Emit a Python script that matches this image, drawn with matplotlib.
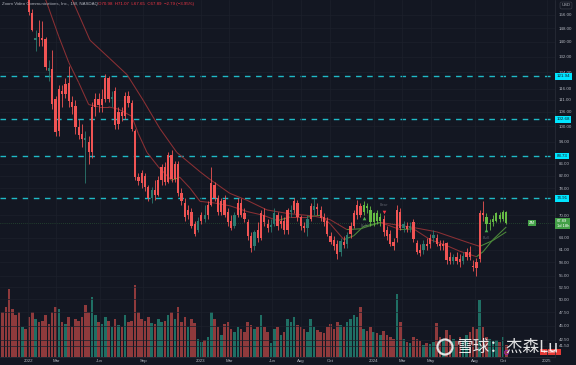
import numpy as np
import pandas as pd
import matplotlib
matplotlib.use('Agg')
import matplotlib.pyplot as plt
import matplotlib.dates as mdates
from matplotlib.collections import LineCollection
from matplotlib.patches import Circle
from matplotlib.ticker import NullLocator
from matplotlib.transforms import IdentityTransform

# weekly ZM candles, first week 2021-11-08
first_week = '2021-11-08'
open_ = [270, 262, 250, 210, 198, 190, 182, 186,
         184, 157, 141.3, 145.3, 142.4, 141.5, 126, 125.5, 111.4, 98,
         115, 113.6, 119, 110, 108.5, 99.5, 97, 95.5, 94, 90,
         108, 111.5, 109, 111.5, 121, 111.5, 115, 101, 106, 104,
         113, 109.5, 98, 81.5, 82.8, 82, 78.3, 75, 77.5, 76,
         80.5, 85, 80, 89, 81, 86, 76.5, 73.5, 70, 71,
         67.5, 66, 68.5, 70, 70, 73, 79, 75, 71, 74.5,
         71, 68.5, 67, 70, 73.5, 70.5, 68, 64.5, 62, 66,
         64, 70, 67.5, 66.7, 67.5, 70, 67.5, 68.5, 66, 71,
         71.5, 73.5, 69.5, 67, 66.5, 69, 71.5, 72.3, 71.5, 69.5,
         68.5, 64.5, 63.5, 62.5, 60.5, 63, 62.5, 65, 67, 70,
         72.5, 71, 72.5, 71.5, 68, 70.5, 68.5, 69, 66, 65,
         63, 64, 71, 66.5, 67, 66.5, 68, 62.7, 61, 61,
         62.5, 62.5, 64, 64, 62.5, 62, 62.7, 59.2, 58.3, 59.3,
         58.8, 58.2, 59.3, 60.5, 57, 58, 58.7, 70.5, 69.5, 67.5,
         68, 68.5, 70, 69, 70.98]
high = [275, 270, 255, 215, 205, 200, 190, 190,
        186, 160, 147, 153, 152, 143, 130.5, 135.8, 113, 118,
        118, 121, 127, 113, 111, 103, 101, 98, 96, 110,
        114, 114, 116, 123, 122, 115, 117, 108, 108, 114.5,
        115, 111, 99, 83, 84, 83, 79, 78.5, 80.5, 82,
        86, 86.5, 90, 91, 87, 87, 78, 75, 73, 72,
        68.5, 69.5, 71, 73, 74, 85, 80, 76, 75, 76,
        72, 70, 71, 75, 75, 72, 69, 65.5, 66, 68,
        71.5, 72, 69, 69, 72, 71, 70, 69.5, 72, 73,
        75, 74.5, 70, 68, 70, 73.5, 75, 73.5, 72.5, 70.5,
        69.5, 65.5, 64.5, 63.5, 64, 64.5, 65.5, 68, 71.5, 74.5,
        73.5, 74, 73.5, 72.5, 71, 71.5, 70.5, 70, 67, 66,
        64, 73, 72, 68.5, 68, 68, 69, 63.5, 62.5, 63.5,
        64, 65, 66, 65, 63.5, 63.5, 63, 60.5, 60, 60.5,
        60, 60.5, 61.5, 62, 58.5, 59, 71.5, 74, 70.5, 69,
        70, 71, 71, 71.5, 71.07]
low = [255, 250, 205, 195, 185, 178, 175, 180,
       156, 146, 135, 138, 138, 125, 120, 107, 96, 96,
       108, 112, 108, 105, 97, 95, 92, 79.5, 86, 88,
       104, 106, 106, 110, 110, 108, 99, 99, 102, 103,
       108, 98, 80.5, 79, 78, 77, 74, 73.5, 74.5, 75.5,
       79, 79, 79.5, 80, 80, 75.5, 73, 68.5, 69, 66.5,
       64.5, 65.5, 67.5, 68, 69, 72.5, 74, 70, 70, 69.5,
       67, 66, 66.5, 69.5, 69.5, 68, 63.5, 60.5, 61, 63,
       63.5, 67, 65.5, 65.5, 67, 66, 66.5, 65, 65, 69.5,
       70.5, 68.5, 66, 65.5, 64.5, 68.5, 70, 70, 68.5, 67,
       64.5, 62.5, 61, 58.8, 59.5, 61.5, 61.5, 64, 66.5, 69,
       69.5, 70, 70.5, 67, 67, 67.5, 67, 64.5, 63.5, 62,
       61, 63, 66, 65.5, 65.5, 65.5, 63, 60, 59.5, 60,
       61, 61.5, 63, 62, 61, 61, 57.5, 57.5, 57.5, 57.5,
       57, 57.5, 58.5, 58.5, 56, 55, 58, 68.5, 66, 66,
       67, 68, 68, 68.5, 67.65]
close = [262, 250, 210, 198, 190, 182, 186, 184,
         158, 147, 142.5, 143, 141.3, 126.6, 124.5, 109.2, 97.8, 116,
         113.6, 118.2, 110.5, 108, 99.5, 96.5, 95, 94.5, 90, 108,
         111.5, 109, 111.5, 121, 111.5, 112.5, 100.5, 106, 104, 113,
         109.5, 99, 81.5, 80.3, 79.5, 78.3, 75, 77.5, 76, 80.5,
         85, 80, 89, 81, 86, 76.5, 74, 69.5, 71.5, 67,
         65, 68.5, 70, 69, 73, 79.5, 75, 71, 74, 70,
         68, 66.5, 70, 73.5, 70, 69, 64.5, 61.5, 65.5, 64,
         70.5, 68, 66.5, 67.3, 70.5, 67, 68.5, 66, 71.5, 71.5,
         74, 69.5, 67, 66.5, 69, 72.5, 72.5, 71.7, 69.3, 68,
         65, 63, 61.8, 60, 63.2, 62.2, 64.8, 67, 70.5, 73,
         70, 73, 72, 68, 70.5, 68.5, 69.5, 65.5, 64.5, 62.5,
         62, 71.5, 66.5, 67.5, 66.3, 67, 63.6, 60.5, 60.3, 62.5,
         62, 64, 64.7, 62.5, 62, 62.5, 58.5, 58.2, 59.2, 58.4,
         58, 59.5, 60.5, 59.2, 56.8, 56.7, 70.5, 70, 67.5, 67.9,
         69, 70.5, 68.9, 71, 67.89]
# weekly volume, millions of shares
volume = [45, 50, 68, 48, 42, 45, 30, 28,
          40, 45, 38, 35, 36, 42, 33, 45, 50, 48,
          35, 33, 40, 30, 38, 36, 40, 52, 45, 60,
          42, 35, 33, 40, 36, 30, 38, 32, 30, 42,
          35, 36, 72, 45, 38, 36, 40, 34, 33, 38,
          35, 36, 42, 45, 38, 50, 35, 40, 30, 38,
          34, 18, 15, 17, 20, 45, 38, 30, 22, 33,
          35, 28, 25, 30, 28, 25, 35, 32, 28, 30,
          42, 30, 25, 14, 28, 30, 22, 25, 38, 35,
          40, 32, 30, 28, 25, 38, 30, 27, 25, 24,
          30, 33, 28, 35, 32, 30, 35, 38, 42, 40,
          50, 28, 26, 30, 25, 24, 22, 26, 22, 20,
          18, 63, 35, 18, 15, 14, 20, 18, 16, 12,
          14, 13, 15, 34, 20, 16, 27, 22, 18, 16,
          20, 18, 22, 25, 30, 28, 57, 30, 20, 18,
          16, 17, 15, 20, 12]
# bar colouring of the trend study: r = bearish, t = neutral, g = bullish
bar_tone = ("rrrrrrrr" "rrtrrrtrrr" "rrrrrrrtrr" "rrrrrtrrrr" "rrrrrrrtrr"
            "rrrrrrrrrr" "rtrtrrrrrr" "rrtrrrrrtr" "rrrttrrrrt" "rrrrtrtrrr"
            "rrrrtrtrrr" "rggggggrrr" "rrrtrtrrrt" "rrtrrrrrtr" "rtrrrrrrgg"
            "ggggg")

# moving averages, sampled (weeks after 2022-01-03, price)
fast_wk = [4, 6, 9, 12, 15, 18, 21, 24, 27, 31, 33, 35.6, 39, 43, 45.5, 48.6, 51.6, 56,
           60.6, 66, 70.6, 75, 78.7, 84, 88, 91, 95, 98, 101, 106, 112, 116, 121, 126,
           130, 135, 137, 140, 144]
fast_val = [172, 160, 143, 129, 119, 109, 108, 108, 107, 104, 97, 90, 85, 80.5, 81.5, 78,
            74, 73.5, 72.7, 71, 70, 68.5, 69.5, 69.5, 70, 67.5, 63.5, 64.5, 67, 68, 66.1,
            66.3, 63.5, 62, 60.6, 59.3, 60.5, 63.5, 66.8]
slow_wk = [11, 13, 18.4, 24.4, 29.6, 34.4, 39.5, 44.6, 51.6, 54.6, 60.6, 65.8, 71.8, 78,
           85.7, 90.8, 95.9, 100, 106, 115, 123, 133, 136, 140, 144]
slow_val = [172, 166, 141, 131, 122.8, 111, 99, 90, 83.3, 80.8, 76.4, 74.3, 71.5, 70.5,
            69.8, 68.8, 66.1, 66.3, 68, 66.8, 65.5, 62.6, 61.8, 63.3, 65.5]

levels = [121.94, 102.68, 88.73, 74.91]
last_price = 67.89

sig_wk = [101, 107, 138]
sig_px = [69.2, 71.0, 66.0]
sig_kind = ['Bull', 'Bear', 'Bull']

price_ticks = [156, 148, 140, 132, 124, 116, 111, 106, 100, 94, 86, 82, 78, 70,
               64, 61, 58, 55, 52.5, 50, 47.5, 45, 42.5, 41.5]
x_tick_dates = ['2022-01-01', '2022-03-01', '2022-06-01', '2022-09-01', '2023-01-01',
                '2023-03-01', '2023-06-01', '2023-08-01', '2023-10-01', '2024-01-01',
                '2024-03-01', '2024-05-01', '2024-08-01', '2024-10-01', '2025-01-01']
x_tick_labels = ['2022', 'Mar', 'Jun', 'Sep', '2023', 'Mar', 'Jun', 'Aug', 'Oct',
                 '2024', 'Mar', 'May', 'Aug', 'Oct', '2025']

BG = '#131722'
TXT = '#b2b5be'
tone_col = {'r': '#f05454', 't': '#2b7a6f', 'g': '#66bb44'}

weeks = pd.date_range(first_week, periods=len(close), freq='W-MON')
xd = mdates.date2num(weeks)
o = np.array(open_); h = np.array(high); l = np.array(low); c = np.array(close)
x0 = mdates.date2num(pd.Timestamp('2022-01-03'))

W, H = 576, 365
fig = plt.figure(figsize=(W / 100, H / 100), dpi=100, facecolor=BG)
rect = [0, 8 / H, 555 / W, 357 / H]
ax_v = fig.add_axes(rect, facecolor=BG)
ax = fig.add_axes(rect, sharex=ax_v)
ax.patch.set_visible(False)

# volume
vcol = np.where(c >= o, '#1f6f64', '#8f3a3c')
ax_v.bar(xd, volume, width=5.4, color=vcol, linewidth=0)
ax_v.set_ylim(0, 357)
ax_v.set_yticks([])
ax_v.tick_params(axis='x', length=0, labelbottom=False)
for s in ax_v.spines.values():
    s.set_visible(False)

# candles
cols = [tone_col[t] for t in bar_tone]
ax.vlines(xd, l, h, colors=cols, lw=0.6, zorder=3)
lo = np.minimum(o, c)
hi = np.maximum(o, c)
ax.bar(xd, np.maximum(hi - lo, 0.25), bottom=lo, width=4.8, color=cols, linewidth=0, zorder=4)

# moving averages, green where rising
for wk, val in [(fast_wk, fast_val), (slow_wk, slow_val)]:
    mx = x0 + 7 * np.array(wk)
    pts = np.column_stack([mx, val])
    segs = np.stack([pts[:-1], pts[1:]], axis=1)
    sc = ['#4d8a3b' if b > a else '#8b3034' for a, b in zip(val[:-1], val[1:])]
    ax.add_collection(LineCollection(segs, colors=sc, linewidths=0.75, zorder=2))

# key levels
for lv in levels:
    ax.axhline(lv, color='#1fbac6', lw=1.0, ls=(0, (4, 4)), zorder=1)
    ax.text(1.003, lv, f'{lv:.2f}', transform=ax.get_yaxis_transform(), fontsize=3.2,
            color=BG, va='center', ha='left', clip_on=False, family='Liberation Sans',
            bbox=dict(boxstyle='square,pad=0.3', fc='#00e5ff', ec='none'), zorder=10)

ax.axhline(last_price, color='#4caf50', lw=0.5, ls=(0, (1, 2)), alpha=0.5, zorder=1)
ax.text(1.003, last_price + 1.0, f'{last_price:.2f}\n1d 18h', transform=ax.get_yaxis_transform(),
        fontsize=3.0, color='white', va='top', ha='left', clip_on=False, linespacing=1.1,
        family='Liberation Sans', bbox=dict(boxstyle='square,pad=0.3', fc='#43a047', ec='none'),
        zorder=10)
ax.text(0.953, last_price, 'ZM', transform=ax.get_yaxis_transform(), fontsize=3.0,
        color='white', va='center', ha='left', family='Liberation Sans',
        bbox=dict(boxstyle='square,pad=0.3', fc='#43a047', ec='none'), zorder=10)

# signals
for wk, px, kind in zip(sig_wk, sig_px, sig_kind):
    sx = x0 + 7 * wk
    if kind == 'Bull':
        ax.plot(sx, px, marker='^', ms=2.6, color='#4caf50', mew=0, zorder=6)
        ax.text(sx, px * 0.975, kind, fontsize=2.6, color='#787b86', alpha=0.7,
                ha='center', va='top', zorder=6)
    else:
        ax.plot(sx, px, marker='v', ms=2.6, color='#f23645', mew=0, zorder=6)
        ax.text(sx, px * 1.02, kind, fontsize=2.6, color='#787b86', alpha=0.7,
                ha='center', va='bottom', zorder=6)

# axes
ax.set_yscale('log')
ax.set_ylim(39.7, 165.6)
ax.yaxis.set_minor_locator(NullLocator())
ax.set_yticks(price_ticks)
ax.set_yticklabels([f'{t:.2f}' for t in price_ticks])
ax.yaxis.tick_right()
ax.tick_params(axis='y', length=0, pad=2.5, labelsize=3.2, labelcolor=TXT)
ax.set_xticks(mdates.date2num(pd.to_datetime(x_tick_dates)))
ax.set_xticklabels(x_tick_labels)
ax.tick_params(axis='x', length=0, pad=1.3, labelsize=3.2, labelcolor=TXT)
for lab in ax.get_xticklabels() + ax.get_yticklabels():
    lab.set_family('Liberation Sans')
ax.set_xlim(x0 - 29 / 0.4735, x0 - 29 / 0.4735 + 555 / 0.4735)
ax.grid(True, color='#1c202b', lw=0.5)
for k, s in ax.spines.items():
    s.set_visible(k in ('right', 'bottom'))
    s.set_color('#2a2e39')
    s.set_linewidth(0.5)

# header and badges
fig.text(2 / W, 1 - 4.5 / H, 'Zoom Video Communications, Inc., 1W, NASDAQ', fontsize=3.2,
         color=TXT, va='center', family='Liberation Sans')
fig.text(98 / W, 1 - 4.5 / H, 'O70.98  H71.07  L67.65  C67.89  \u22122.79 (\u22123.95%)',
         fontsize=3.2, color='#f23645', va='center', family='Liberation Sans')
fig.text(566 / W, 1 - 5.5 / H, 'USD', fontsize=3.0, color=TXT, ha='center', va='center',
         family='Liberation Sans',
         bbox=dict(boxstyle='round,pad=0.35', fc=BG, ec='#434651', lw=0.4))
ax_v.text(0.975, 5, '  1.658M  ', transform=ax_v.get_yaxis_transform(), fontsize=3.0,
          color='white', va='center', ha='left', clip_on=False, family='Liberation Sans',
          bbox=dict(boxstyle='square,pad=0.3', fc='#e53935', ec='none'), zorder=10)
ax_v.plot(xd[-1], 5, marker='o', ms=3, mfc='none', mec='#9c27b0', mew=0.6)

# watermark
fig.add_artist(Circle((445, H - 347), 7.5, transform=IdentityTransform(), fill=False,
                      ec='white', lw=1.6, alpha=0.85))
fig.text(457 / W, 1 - 347 / H, '雪球：杰森Lu', fontsize=12, color='white', alpha=0.88,
         va='center', ha='left', family=['Noto Sans CJK SC', 'DejaVu Sans'])

fig.savefig('out.png', dpi=100, facecolor=BG)
